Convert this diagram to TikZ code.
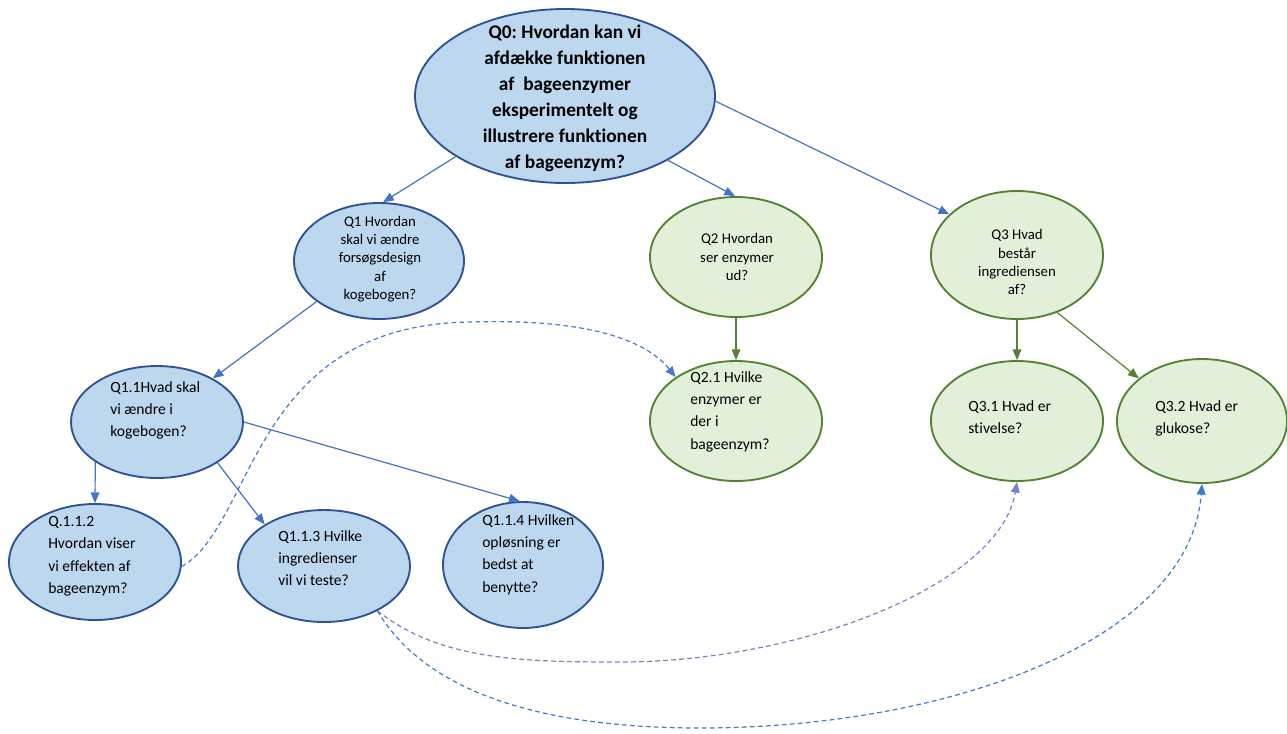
\documentclass[tikz,border=0pt]{standalone}
\usepackage{fontspec}
\setmainfont{Carlito}[Ligatures=NoCommon]
\usetikzlibrary{shapes.geometric,arrows.meta}
\frenchspacing

\definecolor{qblue}{HTML}{BDD7EE}
\definecolor{qblueline}{HTML}{2E5395}
\definecolor{qgreen}{HTML}{E2F0D9}
\definecolor{qgreenline}{HTML}{548235}
\definecolor{arrowblue}{HTML}{4472C4}
\definecolor{dashA}{HTML}{4A79CF}
\definecolor{dashB}{HTML}{7482C8}
\definecolor{dashC}{HTML}{3E7BC8}

\tikzset{
  qnode/.style={ellipse, line width=1.4pt, inner sep=0pt},
  bluebubble/.style={qnode, draw=qblueline, fill=qblue},
  greenbubble/.style={qnode, draw=qgreenline, fill=qgreen},
  toptext/.style={inner sep=0pt, align=center, text=black,
    font=\fontsize{14.5}{19.5}\selectfont\bfseries},
  midtext/.style={inner sep=0pt, align=center, text=black,
    font=\fontsize{11.1}{13.6}\selectfont},
  lefttext/.style={inner sep=0pt, align=left, anchor=north west, text=black,
    font=\fontsize{11.7}{16.8}\selectfont},
  tip/.style={-{Triangle[length=8pt,width=6.5pt]}},
  bluelink/.style={tip, draw=arrowblue, line width=0.9pt},
  greenlink/.style={tip, draw=qgreenline, line width=0.9pt},
  dashlink/.style={tip, line width=0.9pt, dash pattern=on 3.5pt off 2.5pt},
}

\begin{document}
\begin{tikzpicture}[x=0.75pt, y=-0.75pt]
\path[use as bounding box] (0,0) rectangle (1287,733);

% question bubbles
\node[bluebubble, minimum width=225pt, minimum height=130.5pt] (q0) at (565,96) {};
\node[bluebubble, minimum width=127.5pt, minimum height=87pt] (q1) at (379,261) {};
\node[greenbubble, minimum width=129pt, minimum height=90pt] (q2) at (736,257) {};
\node[greenbubble, minimum width=129pt, minimum height=96pt] (q3) at (1017,255) {};
\node[bluebubble, minimum width=129pt, minimum height=84pt] (q11) at (157,422) {};
\node[greenbubble, minimum width=129pt, minimum height=90pt] (q21) at (736,421) {};
\node[greenbubble, minimum width=129pt, minimum height=90pt] (q31) at (1017,421) {};
\node[greenbubble, minimum width=127.5pt, minimum height=93pt] (q32) at (1202,421) {};
\node[bluebubble, minimum width=129pt, minimum height=87pt] (q112) at (95,562) {};
\node[bluebubble, minimum width=129pt, minimum height=84pt] (q113) at (324,566) {};
\node[bluebubble, minimum width=120pt, minimum height=94.5pt] (q114) at (523,565) {};

% question texts
\node[toptext] (t0) at (565,98) {Q0: Hvordan kan vi\\afdække funktionen\\af~~bageenzymer\\eksperimentelt og\\illustrere funktionen\\af bageenzym?};
\node[midtext] (t1) at (380,259) {Q1 Hvordan\\skal vi ændre\\forsøgsdesign\\af\\kogebogen?};
\node[midtext] (t2) at (737,257) {Q2 Hvordan\\ser enzymer\\ud?};
\node[midtext] (t3) at (1017,262) {Q3 Hvad\\består\\ingrediensen\\af?};
\node[lefttext] (t11) at (110,381) {Q1.1Hvad skal\\vi ændre i\\kogebogen?};
\node[lefttext] (t112) at (48,516) {Q.1.1.2\\Hvordan viser\\vi effekten af\\bageenzym?};
\node[lefttext] (t113) at (278,530) {Q1.1.3 Hvilke\\ingredienser\\vil vi teste?};
\node[lefttext] (t114) at (482,514) {Q1.1.4 Hvilken\\opløsning er\\bedst at\\benytte?};
\node[lefttext] (t21) at (690,371) {Q2.1 Hvilke\\enzymer er\\der i\\bageenzym?};
\node[lefttext] (t31) at (968,400) {Q3.1 Hvad er\\stivelse?};
\node[lefttext] (t32) at (1155,400) {Q3.2 Hvad er\\glukose?};

% solid links
\draw[bluelink] (q0.209) -- (q1.86);
\draw[bluelink] (q0.328) -- (q2.91);
\draw[bluelink] (q0.358) -- (q3.149);
\draw[bluelink] (q1.213) -- (q11.38);
\draw[bluelink] (q11.213) -- (q112.north);
\draw[bluelink] (q11.326) -- (q113.145);
\draw[bluelink] (q11.east) -- (q114.93);
\draw[greenlink] (q2.south) -- (q21.north);
\draw[greenlink] (q3.south) -- (q31.north);
\draw[greenlink] (q3.305) -- (q32.146);

% dashed cross links
\draw[dashlink, draw=dashA] (q112.357)
  .. controls (255,525) and (250,325) .. (470,322)
  .. controls (600,318) and (650,345) .. (q21.144);
\draw[dashlink, draw=dashB] (q113.320)
  .. controls (440,660) and (520,662) .. (620,662)
  .. controls (800,662) and (1000,585) .. (q31.south);
\draw[dashlink, draw=dashC] (q113.320)
  .. controls (430,700) and (560,728) .. (700,728)
  .. controls (950,728) and (1190,640) .. (q32.south);
\end{tikzpicture}
\end{document}
